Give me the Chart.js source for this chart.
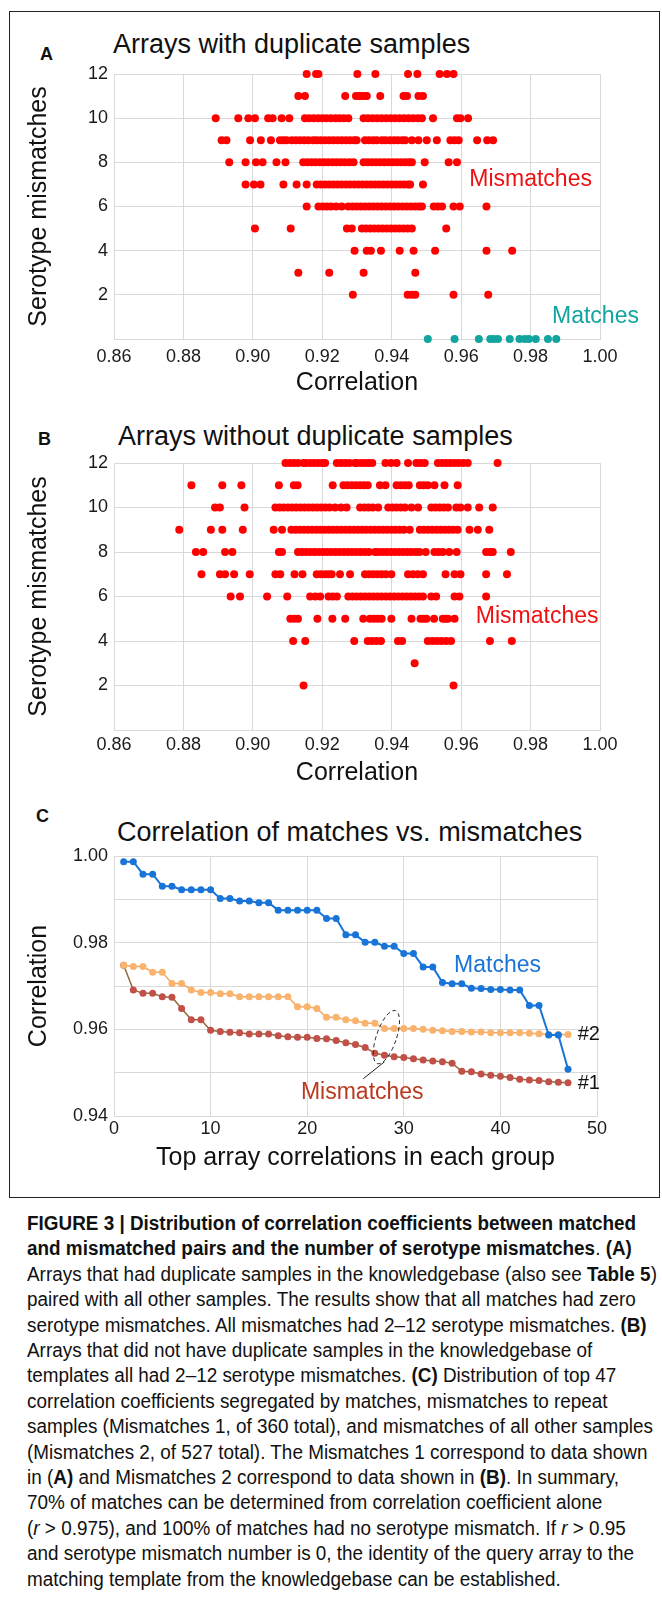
<!DOCTYPE html>
<html>
<head>
<meta charset="utf-8">
<script src="https://cdn.jsdelivr.net/npm/chart.js@4.4.1/dist/chart.umd.min.js"></script>
<style>
  html, body { margin: 0; padding: 0; background: #fff; }
  body { width: 662px; height: 1599px; position: relative; overflow: hidden;
         font-family: 'Liberation Sans', Arial, sans-serif; color: #111; }
  .frame { position: absolute; left: 9px; top: 11px; width: 649px; height: 1185px;
           border: 1.5px solid #222; }
  .panel { position: absolute; left: 0; width: 662px; }
  .letter { position: absolute; font-weight: bold; font-size: 18px; line-height: 18px; }
  .ptitle { position: absolute; font-size: 27px; line-height: 27px; white-space: nowrap; }
  #caption { position: absolute; left: 27px; top: 1211px; font-size: 19.5px; line-height: 25.4px;
             font-family: 'Liberation Sans', Arial, sans-serif; transform-origin: 0 0; }
  #caption div { white-space: nowrap; }
</style>
</head>
<body>
<div class="frame"></div>

<div class="letter" style="left:40px; top:45px;">A</div>
<div class="ptitle" style="left:113px; top:31px;">Arrays with duplicate samples</div>
<div class="panel" style="top:15px; height:385px;"><canvas id="chartA"></canvas></div>

<div class="letter" style="left:38px; top:430px;">B</div>
<div class="ptitle" style="left:118px; top:423px;">Arrays without duplicate samples</div>
<div class="panel" style="top:400px; height:395px;"><canvas id="chartB"></canvas></div>

<div class="letter" style="left:36px; top:807px;">C</div>
<div class="ptitle" style="left:117px; top:819px;">Correlation of matches vs. mismatches</div>
<div class="panel" style="top:795px; height:400px;"><canvas id="chartC"></canvas></div>

<div id="caption"></div>

<script>
// ---------------------------------------------------------------------------
// Data - panel A (arrays with duplicate samples), correlation per mismatch row
// ---------------------------------------------------------------------------
const aRow12 = [0.9155, 0.9182, 0.9189, 0.9301, 0.9353, 0.9447, 0.9474, 0.9538, 0.9559, 0.9578];
const aRow11 = [0.9131, 0.9150, 0.9266, 0.9297, 0.9305, 0.9312, 0.9320, 0.9328, 0.9367, 0.9434, 0.9444, 0.9477, 0.9490];
const aRow10 = [0.8893, 0.8958, 0.8987, 0.9006, 0.9044, 0.9057, 0.9083, 0.9105, 0.9150, 0.9162, 0.9175, 0.9188,
                0.9200, 0.9212, 0.9225, 0.9238, 0.9250, 0.9262, 0.9275, 0.9319, 0.9332, 0.9345, 0.9358, 0.9371,
                0.9384, 0.9397, 0.9410, 0.9423, 0.9436, 0.9449, 0.9462, 0.9475, 0.9487, 0.9519, 0.9588, 0.9598, 0.9620];
const aRow9 = [0.8910, 0.8924, 0.8992, 0.9023, 0.9052, 0.9078, 0.9088, 0.9097, 0.9112, 0.9124, 0.9136, 0.9148,
               0.9160, 0.9174, 0.9184, 0.9196, 0.9208, 0.9220, 0.9232, 0.9244, 0.9256, 0.9268, 0.9280, 0.9292,
               0.9299, 0.9323, 0.9335, 0.9347, 0.9357, 0.9372, 0.9382, 0.9395, 0.9407, 0.9418, 0.9430, 0.9439,
               0.9458, 0.9477, 0.9501, 0.9530, 0.9569, 0.9581, 0.9593, 0.9646, 0.9675, 0.9692];
const aRow8 = [0.8932, 0.8979, 0.9009, 0.9028, 0.9068, 0.9094, 0.9145, 0.9157, 0.9169, 0.9181, 0.9193, 0.9205,
               0.9217, 0.9229, 0.9241, 0.9253, 0.9265, 0.9278, 0.9290, 0.9319, 0.9331, 0.9343, 0.9355, 0.9367,
               0.9379, 0.9391, 0.9403, 0.9415, 0.9427, 0.9439, 0.9450, 0.9458, 0.9495, 0.9564, 0.9588];
const aRow7 = [0.8979, 0.9003, 0.9022, 0.9088, 0.9126, 0.9155, 0.9184, 0.9196, 0.9208, 0.9220, 0.9232, 0.9244,
               0.9256, 0.9268, 0.9280, 0.9292, 0.9304, 0.9316, 0.9328, 0.9340, 0.9352, 0.9364, 0.9376, 0.9388,
               0.9400, 0.9412, 0.9424, 0.9436, 0.9447, 0.9453, 0.9490];
const aRow6 = [0.9155, 0.9189, 0.9201, 0.9213, 0.9225, 0.9240, 0.9256, 0.9275, 0.9287, 0.9299, 0.9311, 0.9323,
               0.9335, 0.9347, 0.9359, 0.9371, 0.9383, 0.9395, 0.9407, 0.9419, 0.9431, 0.9443, 0.9455, 0.9467,
               0.9479, 0.9487, 0.9521, 0.9533, 0.9545, 0.9578, 0.9596, 0.9673];
const aRow5 = [0.9006, 0.9109, 0.9271, 0.9285, 0.9314, 0.9326, 0.9338, 0.9350, 0.9362, 0.9374, 0.9386, 0.9398,
               0.9410, 0.9422, 0.9434, 0.9446, 0.9458, 0.9557];
const aRow4 = [0.9293, 0.9328, 0.9340, 0.9369, 0.9423, 0.9463, 0.9525, 0.9673, 0.9747];
const aRow3 = [0.9131, 0.9220, 0.9319, 0.9468];
const aRow2 = [0.9288, 0.9446, 0.9458, 0.9468, 0.9578, 0.9678];
const aMatches = [0.9504, 0.9581, 0.9651, 0.9684, 0.9694, 0.9706, 0.9740, 0.9768, 0.9783, 0.9795, 0.9815, 0.9850, 0.9874];

// ---------------------------------------------------------------------------
// Data - panel B (arrays without duplicate samples)
// ---------------------------------------------------------------------------
const bRow12 = [0.9094, 0.9106, 0.9118, 0.9130, 0.9146, 0.9153, 0.9165, 0.9177, 0.9189, 0.9200, 0.9208, 0.9242,
                0.9254, 0.9266, 0.9278, 0.9294, 0.9299, 0.9311, 0.9322, 0.9333, 0.9344, 0.9382, 0.9398, 0.9414,
                0.9447, 0.9471, 0.9483, 0.9495, 0.9533, 0.9545, 0.9557, 0.9569, 0.9581, 0.9593, 0.9606, 0.9619, 0.9705];
const bRow11 = [0.8823, 0.8912, 0.8967, 0.9075, 0.9118, 0.9129, 0.9230, 0.9261, 0.9273, 0.9285, 0.9297, 0.9309,
                0.9320, 0.9331, 0.9366, 0.9382, 0.9414, 0.9426, 0.9438, 0.9449, 0.9481, 0.9492, 0.9504, 0.9523,
                0.9552, 0.9590];
const bRow10 = [0.8891, 0.8905, 0.8976, 0.9065, 0.9077, 0.9089, 0.9101, 0.9113, 0.9125, 0.9137, 0.9149, 0.9161,
                0.9173, 0.9185, 0.9197, 0.9209, 0.9221, 0.9237, 0.9254, 0.9270, 0.9309, 0.9321, 0.9333, 0.9345,
                0.9361, 0.9390, 0.9402, 0.9414, 0.9426, 0.9438, 0.9457, 0.9476, 0.9514, 0.9526, 0.9538, 0.9550,
                0.9562, 0.9586, 0.9598, 0.9619, 0.9652, 0.9691];
const bRow9 = [0.8788, 0.8879, 0.8912, 0.8971, 0.9060, 0.9084, 0.9111, 0.9123, 0.9135, 0.9147, 0.9159, 0.9171,
               0.9183, 0.9195, 0.9207, 0.9219, 0.9231, 0.9243, 0.9255, 0.9267, 0.9279, 0.9291, 0.9303, 0.9315,
               0.9327, 0.9339, 0.9351, 0.9363, 0.9375, 0.9387, 0.9399, 0.9411, 0.9423, 0.9435, 0.9452, 0.9481,
               0.9493, 0.9505, 0.9517, 0.9529, 0.9541, 0.9553, 0.9565, 0.9577, 0.9590, 0.9624, 0.9648, 0.9681];
const bRow8 = [0.8836, 0.8857, 0.8920, 0.8941, 0.9075, 0.9084, 0.9130, 0.9142, 0.9154, 0.9166, 0.9178, 0.9190,
               0.9202, 0.9214, 0.9226, 0.9238, 0.9250, 0.9262, 0.9274, 0.9286, 0.9298, 0.9310, 0.9322, 0.9334,
               0.9352, 0.9361, 0.9373, 0.9385, 0.9397, 0.9409, 0.9421, 0.9433, 0.9445, 0.9457, 0.9469, 0.9480,
               0.9498, 0.9523, 0.9535, 0.9547, 0.9566, 0.9587, 0.9672, 0.9683, 0.9691, 0.9743];
const bRow7 = [0.8852, 0.8905, 0.8920, 0.8946, 0.8991, 0.9065, 0.9079, 0.9120, 0.9143, 0.9184, 0.9196, 0.9208,
               0.9218, 0.9227, 0.9251, 0.9280, 0.9323, 0.9335, 0.9347, 0.9359, 0.9371, 0.9383, 0.9399, 0.9447,
               0.9461, 0.9475, 0.9490, 0.9555, 0.9581, 0.9598, 0.9672, 0.9732];
const bRow6 = [0.8936, 0.8963, 0.9041, 0.9099, 0.9165, 0.9180, 0.9194, 0.9218, 0.9230, 0.9242, 0.9275, 0.9287,
               0.9299, 0.9311, 0.9323, 0.9335, 0.9347, 0.9359, 0.9371, 0.9383, 0.9395, 0.9407, 0.9419, 0.9431,
               0.9443, 0.9455, 0.9467, 0.9479, 0.9490, 0.9514, 0.9528, 0.9581, 0.9595, 0.9672];
const bRow5 = [0.9108, 0.9119, 0.9130, 0.9186, 0.9229, 0.9266, 0.9318, 0.9337, 0.9349, 0.9360, 0.9371, 0.9399,
               0.9457, 0.9483, 0.9492, 0.9500, 0.9522, 0.9547, 0.9555, 0.9562, 0.9581];
const bRow4 = [0.9116, 0.9151, 0.9292, 0.9331, 0.9343, 0.9356, 0.9369, 0.9418, 0.9430, 0.9504, 0.9517, 0.9530,
               0.9543, 0.9557, 0.9571, 0.9683, 0.9746];
const bRow3 = [0.9466];
const bRow2 = [0.9146, 0.9578];

// ---------------------------------------------------------------------------
// Data - panel C (top 47 correlations per group)
// ---------------------------------------------------------------------------
const cRanks = [1, 2, 3, 4, 5, 6, 7, 8, 9, 10, 11, 12, 13, 14, 15, 16, 17, 18, 19, 20, 21, 22, 23, 24,
                25, 26, 27, 28, 29, 30, 31, 32, 33, 34, 35, 36, 37, 38, 39, 40, 41, 42, 43, 44, 45, 46, 47];
const cMatches = [0.9987, 0.9987, 0.9958, 0.9958, 0.9930, 0.9930, 0.9922, 0.9922, 0.9922, 0.9922, 0.9902, 0.9902,
                  0.9896, 0.9896, 0.9892, 0.9892, 0.9875, 0.9875, 0.9875, 0.9875, 0.9875, 0.9856, 0.9856, 0.9818,
                  0.9818, 0.9801, 0.9801, 0.9792, 0.9792, 0.9775, 0.9775, 0.9744, 0.9744, 0.9708, 0.9705, 0.9705,
                  0.9695, 0.9694, 0.9692, 0.9692, 0.9691, 0.9691, 0.9655, 0.9655, 0.9587, 0.9587, 0.9508];
const cMismatches2 = [0.9748, 0.9745, 0.9745, 0.9732, 0.9732, 0.9706, 0.9706, 0.9691, 0.9685, 0.9685, 0.9682, 0.9682,
                      0.9675, 0.9675, 0.9675, 0.9675, 0.9675, 0.9675, 0.9652, 0.9652, 0.9648, 0.9628, 0.9628, 0.9622,
                      0.9620, 0.9614, 0.9614, 0.9602, 0.9602, 0.9602, 0.9602, 0.9600, 0.9598, 0.9597, 0.9595, 0.9595,
                      0.9594, 0.9594, 0.9592, 0.9592, 0.9592, 0.9592, 0.9591, 0.9590, 0.9588, 0.9588, 0.9588];
const cMismatches1 = [0.9748, 0.9691, 0.9683, 0.9683, 0.9675, 0.9674, 0.9648, 0.9622, 0.9622, 0.9598, 0.9595, 0.9593,
                      0.9592, 0.9589, 0.9589, 0.9589, 0.9585, 0.9583, 0.9582, 0.9582, 0.9579, 0.9578, 0.9574, 0.9569,
                      0.9565, 0.9558, 0.9545, 0.9540, 0.9537, 0.9535, 0.9532, 0.9529, 0.9527, 0.9525, 0.9522, 0.9503,
                      0.9502, 0.9497, 0.9494, 0.9492, 0.9489, 0.9485, 0.9483, 0.9482, 0.9479, 0.9478, 0.9477];

// Axis tick settings
const corrTicks = { min: 0.86, max: 1.00, step: 0.02 };
const mismatchTicks = { min: 0, max: 12, step: 2 };
const rankTicks = { min: 0, max: 50, step: 10 };
const topCorrTicks = { min: 0.94, max: 1.00, step: 0.01 };

// ---------------------------------------------------------------------------
// Helpers
// ---------------------------------------------------------------------------
Chart.defaults.font.family = "'Liberation Sans', Arial, sans-serif";
Chart.defaults.color = '#111';

const GRID = '#d9d9d9';

function rowPoints(xs, y) {
    return xs.map(x => ({ x: x, y: y }));
}

// draws the free text labels / ellipse in data coordinates
const notesPlugin = {
    id: 'notes',
    afterDatasetsDraw(chart, args, opts) {
        const { ctx } = chart;
        const xs = chart.scales.x, ys = chart.scales.y;
        (opts.items || []).forEach(it => {
            ctx.save();
            if (it.type === 'text') {
                ctx.font = (it.bold ? 'bold ' : '') + it.size + "px 'Liberation Sans', Arial, sans-serif";
                ctx.fillStyle = it.color;
                ctx.textAlign = it.align || 'center';
                ctx.textBaseline = 'middle';
                ctx.fillText(it.text, xs.getPixelForValue(it.x), ys.getPixelForValue(it.y));
            } else if (it.type === 'ellipse') {
                ctx.strokeStyle = '#222';
                ctx.lineWidth = 1;
                ctx.setLineDash([4, 3]);
                ctx.beginPath();
                ctx.ellipse(xs.getPixelForValue(it.x), ys.getPixelForValue(it.y), it.rx, it.ry, it.rot, 0, Math.PI * 2);
                ctx.stroke();
            } else if (it.type === 'line') {
                ctx.strokeStyle = '#222';
                ctx.lineWidth = 1;
                ctx.beginPath();
                ctx.moveTo(xs.getPixelForValue(it.x1), ys.getPixelForValue(it.y1));
                ctx.lineTo(xs.getPixelForValue(it.x2), ys.getPixelForValue(it.y2));
                ctx.stroke();
            }
            ctx.restore();
        });
    }
};

function scatterOptions(pad, xTickPad, xTitlePad, notes) {
    return {
        responsive: true,
        maintainAspectRatio: false,
        animation: false,
        events: [],
        layout: { padding: pad },
        plugins: { legend: { display: false }, tooltip: { enabled: false }, notes: { items: notes } },
        scales: {
            x: {
                type: 'linear',
                min: corrTicks.min, max: corrTicks.max,
                grid: { color: GRID, drawTicks: false },
                border: { color: GRID },
                ticks: { stepSize: corrTicks.step, padding: xTickPad, font: { size: 18 }, color: '#1a1a1a',
                         callback: v => v.toFixed(2) },
                title: { display: true, text: 'Correlation', font: { size: 25 }, color: '#111',
                         padding: { top: 0, bottom: xTitlePad } },
                afterFit: s => { s.height = 60; }
            },
            y: {
                min: mismatchTicks.min, max: mismatchTicks.max,
                grid: { color: GRID, drawTicks: false },
                border: { color: GRID },
                ticks: { stepSize: mismatchTicks.step, padding: 6, font: { size: 18 }, color: '#1a1a1a',
                         callback: v => (v === 0 ? '' : v) },
                title: { display: true, text: 'Serotype mismatches', font: { size: 25 }, color: '#111',
                         padding: { top: 0, bottom: 0 } },
                afterFit: s => { s.width = 90; }
            }
        }
    };
}

// ---------------------------------------------------------------------------
// Panel A
// ---------------------------------------------------------------------------
const aMismatchPts = [].concat(
    rowPoints(aRow12, 12), rowPoints(aRow11, 11), rowPoints(aRow10, 10), rowPoints(aRow9, 9),
    rowPoints(aRow8, 8), rowPoints(aRow7, 7), rowPoints(aRow6, 6), rowPoints(aRow5, 5),
    rowPoints(aRow4, 4), rowPoints(aRow3, 3), rowPoints(aRow2, 2));

new Chart(document.getElementById('chartA'), {
    type: 'scatter',
    data: {
        datasets: [
            { label: 'Matches', data: rowPoints(aMatches, 0), pointRadius: 4, pointBorderWidth: 0,
              pointBackgroundColor: '#12a59f', clip: false },
            { label: 'Mismatches', data: aMismatchPts, pointRadius: 4, pointBorderWidth: 0,
              pointBackgroundColor: '#ff0000', clip: false }
        ]
    },
    options: scatterOptions({ top: 59, left: 24, right: 62, bottom: 1 }, 7, 1, [
        { type: 'text', text: 'Mismatches', x: 0.9800, y: 7.2, size: 23, color: '#ee1111' },
        { type: 'text', text: 'Matches', x: 0.9987, y: 1.0, size: 23, color: '#12a59f' }
    ]),
    plugins: [notesPlugin]
});

// ---------------------------------------------------------------------------
// Panel B
// ---------------------------------------------------------------------------
const bMismatchPts = [].concat(
    rowPoints(bRow12, 12), rowPoints(bRow11, 11), rowPoints(bRow10, 10), rowPoints(bRow9, 9),
    rowPoints(bRow8, 8), rowPoints(bRow7, 7), rowPoints(bRow6, 6), rowPoints(bRow5, 5),
    rowPoints(bRow4, 4), rowPoints(bRow3, 3), rowPoints(bRow2, 2));

new Chart(document.getElementById('chartB'), {
    type: 'scatter',
    data: {
        datasets: [
            { label: 'Mismatches', data: bMismatchPts, pointRadius: 4, pointBorderWidth: 0,
              pointBackgroundColor: '#ff0000', clip: false }
        ]
    },
    options: scatterOptions({ top: 63, left: 24, right: 62, bottom: 5 }, 4, 2, [
        { type: 'text', text: 'Mismatches', x: 0.9819, y: 5.1, size: 23, color: '#ee1111' }
    ]),
    plugins: [notesPlugin]
});

// ---------------------------------------------------------------------------
// Panel C
// ---------------------------------------------------------------------------
function rankPoints(values) {
    return cRanks.map((r, i) => ({ x: r, y: values[i] }));
}

new Chart(document.getElementById('chartC'), {
    type: 'scatter',
    data: {
        datasets: [
            { label: 'Matches', data: rankPoints(cMatches), showLine: true, borderColor: '#1874d6', borderWidth: 2,
              pointRadius: 3.5, pointBorderWidth: 0, pointBackgroundColor: '#1874d6', clip: false },
            { label: 'Mismatches #2', data: rankPoints(cMismatches2), showLine: true, borderColor: '#f0a860', borderWidth: 1.5,
              pointRadius: 3.5, pointBorderWidth: 0, pointBackgroundColor: '#f9b36d', clip: false },
            { label: 'Mismatches #1', data: rankPoints(cMismatches1), showLine: true, borderColor: '#8f6a3a', borderWidth: 1.5,
              pointRadius: 3.5, pointBorderWidth: 0, pointBackgroundColor: '#c24f48', clip: false }
        ]
    },
    options: {
        responsive: true,
        maintainAspectRatio: false,
        animation: false,
        events: [],
        layout: { padding: { top: 61, left: 24, right: 65, bottom: 19 } },
        plugins: {
            legend: { display: false },
            tooltip: { enabled: false },
            notes: { items: [
                { type: 'text', text: 'Matches', x: 39.7, y: 0.9748, size: 23, color: '#1874d6' },
                { type: 'text', text: '#2', x: 48.0, y: 0.9587, size: 20, color: '#111', align: 'left' },
                { type: 'text', text: '#1', x: 48.0, y: 0.9476, size: 20, color: '#111', align: 'left' },
                { type: 'text', text: 'Mismatches', x: 25.7, y: 0.9455, size: 23, color: '#b83a1e' },
                { type: 'ellipse', x: 28.2, y: 0.9582, rx: 10, ry: 28, rot: 0.33 },
                { type: 'line', x1: 28.0, y1: 0.9525, x2: 25.8, y2: 0.9486 }
            ] }
        },
        scales: {
            x: {
                type: 'linear',
                min: rankTicks.min, max: rankTicks.max,
                grid: { color: GRID, drawTicks: false },
                border: { color: GRID },
                ticks: { stepSize: rankTicks.step, padding: 2, font: { size: 18 }, color: '#1a1a1a' },
                title: { display: true, text: 'Top array correlations in each group', font: { size: 25 }, color: '#111',
                         padding: { top: 0, bottom: 3 } },
                afterFit: s => { s.height = 60; }
            },
            y: {
                min: topCorrTicks.min, max: topCorrTicks.max,
                grid: { color: GRID, drawTicks: false },
                border: { color: GRID },
                ticks: { stepSize: topCorrTicks.step, padding: 6, font: { size: 18 }, color: '#1a1a1a',
                         callback: v => (Math.round(v * 100) % 2 === 0 ? v.toFixed(2) : '') },
                title: { display: true, text: 'Correlation', font: { size: 25 }, color: '#111',
                         padding: { top: 0, bottom: 0 } },
                afterFit: s => { s.width = 90; }
            }
        }
    },
    plugins: [notesPlugin]
});

// ---------------------------------------------------------------------------
// Caption
// ---------------------------------------------------------------------------
const captionLines = [
    '<b>FIGURE 3 | Distribution of correlation coefficients between matched</b>',
    '<b>and mismatched pairs and the number of serotype mismatches</b>. <b>(A)</b>',
    'Arrays that had duplicate samples in the knowledgebase (also see <b>Table 5</b>)',
    'paired with all other samples. The results show that all matches had zero',
    'serotype mismatches. All mismatches had 2–12 serotype mismatches. <b>(B)</b>',
    'Arrays that did not have duplicate samples in the knowledgebase of',
    'templates all had 2–12 serotype mismatches. <b>(C)</b> Distribution of top 47',
    'correlation coefficients segregated by matches, mismatches to repeat',
    'samples (Mismatches 1, of 360 total), and mismatches of all other samples',
    '(Mismatches 2, of 527 total). The Mismatches 1 correspond to data shown',
    'in (<b>A)</b> and Mismatches 2 correspond to data shown in <b>(B)</b>. In summary,',
    '70% of matches can be determined from correlation coefficient alone',
    '(<i>r</i> &gt; 0.975), and 100% of matches had no serotype mismatch. If <i>r</i> &gt; 0.95',
    'and serotype mismatch number is 0, the identity of the query array to the',
    'matching template from the knowledgebase can be established.'
];
const cap = document.getElementById('caption');
cap.innerHTML = captionLines.map(l => '<div>' + l + '</div>').join('');
// the caption face is condensed: squeeze the widest line (line 9) to its width in the figure
const range = document.createRange();
range.selectNodeContents(cap.children[8]);
const w = range.getBoundingClientRect().width;
if (w > 0) cap.style.transform = 'scaleX(' + (626 / w).toFixed(4) + ')';
</script>
</body>
</html>
